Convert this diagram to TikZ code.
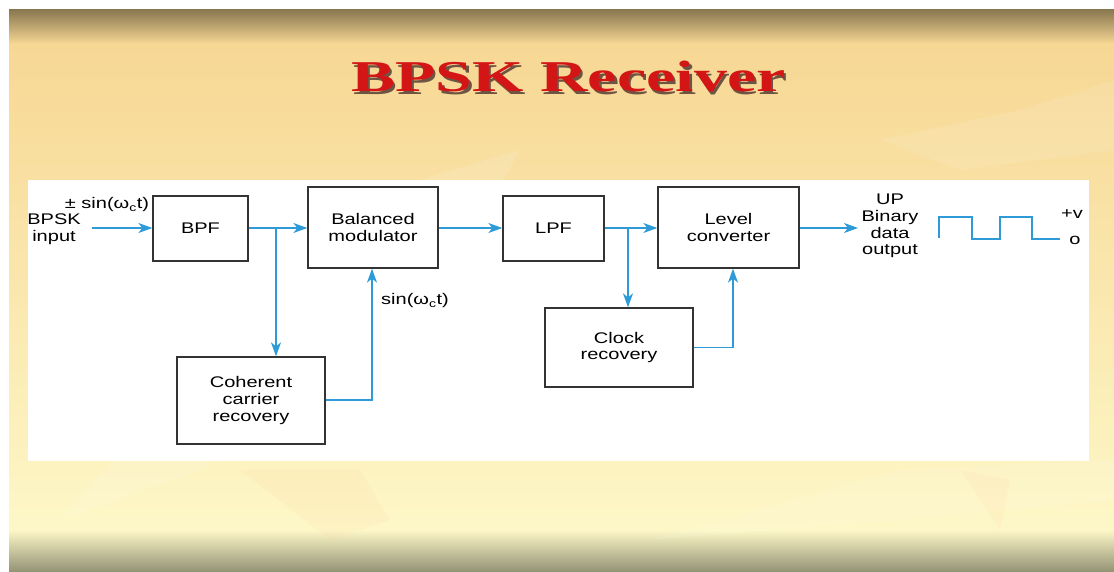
\documentclass[tikz,border=0pt]{standalone}
\usepackage{fontspec}
\setmainfont{Liberation Sans}[FakeStretch=1.30]
\newfontfamily\titlefont{Liberation Serif}[FakeStretch=1.5]
\usetikzlibrary{arrows.meta}

\definecolor{sigblue}{HTML}{2E9BD8}
\definecolor{titlered}{HTML}{D41515}
\definecolor{titleshade}{HTML}{4A2A14}
\definecolor{bandtop}{HTML}{8A7850}
\definecolor{bandbot}{HTML}{929274}
\definecolor{beige}{HTML}{F7D794}
\definecolor{paleyel}{HTML}{FDF7C7}

\newcommand{\blockfont}{\fontsize{15.4}{16.8}\selectfont}
\newcommand{\shadowed}[1]{\makebox[0pt][l]{\raisebox{-2.5pt}{\hspace{2.5pt}\textcolor{titleshade!80}{#1}}}#1}

\tikzset{
  block/.style={draw=black!80, line width=1.3pt, fill=white, inner sep=0pt, align=center, font=\blockfont},
  lbl/.style={align=center, font=\blockfont, inner sep=0pt},
  wire/.style={draw=sigblue, line width=1.3pt},
  sig/.style={wire, -{Stealth[length=14pt,width=10pt,inset=4pt]}}
}

\begin{document}
\begin{tikzpicture}[x=1pt, y=-1pt]
\useasboundingbox (0,0) rectangle (1114,572);

% Background
\fill[white] (0,0) rectangle (1114,572);
\shade[top color=bandtop, bottom color=beige] (9,10) rectangle (1114,44);
\shade[top color=beige, bottom color=paleyel] (9,44) rectangle (1114,530);
\shade[top color=paleyel, bottom color=bandbot] (9,530) rectangle (1114,572);
\fill[white, opacity=0.12] (60,520) -- (230,330) -- (330,250) -- (420,180) -- (520,150) -- (480,220) -- (380,330) -- (200,470) -- cycle;
\fill[white, opacity=0.10] (650,540) -- (900,470) -- (1114,460) -- (1114,500) -- (900,520) -- cycle;
\fill[white, opacity=0.10] (880,140) -- (1020,110) -- (1114,80) -- (1114,150) -- (960,170) -- cycle;
\fill[orange!40, opacity=0.10] (240,470) -- (330,540) -- (390,520) -- (360,470) -- cycle;
\fill[orange!40, opacity=0.10] (960,470) -- (1000,530) -- (1010,480) -- cycle;

% Title
\node[anchor=base, text=titlered, font=\titlefont\bfseries\fontsize{44}{48}\selectfont] (title) at (568.5,91.7) {\shadowed{BPSK Receiver}};

% Diagram panel
\fill[white] (28,180) rectangle (1089,461);

% Blocks
\node[block, minimum width=95pt, minimum height=65pt] (bpf) at (200.5,228.5) {BPF};
\node[block, minimum width=130pt, minimum height=81pt] (bmod) at (373,227.5) {Balanced\\modulator};
\node[block, minimum width=101pt, minimum height=65pt] (lpf) at (553.5,228.5) {LPF};
\node[block, minimum width=141pt, minimum height=81pt] (lconv) at (728.5,227.5) {Level\\converter};
\node[block, minimum width=148pt, minimum height=87pt] (ccr) at (251,400.5) {Coherent\\carrier\\recovery};
\node[block, minimum width=148pt, minimum height=79pt] (clk) at (619,347.5) {Clock\\recovery};

% Labels
\node[lbl] (pmsin) at (107,205) {± sin(ω\textsubscript{c}t)};
\node[lbl] (bpskin) at (54,229) {BPSK\\input};
\node[lbl] (sinlbl) at (415,301) {sin(ω\textsubscript{c}t)};
\node[lbl] (outlbl) at (890,226) {UP\\Binary\\data\\output};
\node[lbl] (plusv) at (1072,214) {+v};
\node[lbl] (zero) at (1075,240) {o};

% Arrows
\coordinate (in) at (92,228);
\coordinate (br1) at (276,228);
\coordinate (br2) at (628,228);
\coordinate (out) at (858,228);
\draw[sig] (in) -- (bpf.west |- in);
\draw[sig] (bpf.east |- in) -- (bmod.west |- in);
\draw[sig] (br1) -- (br1 |- ccr.north);
\draw[sig] (ccr.east |- 0,400) -| ([xshift=-1pt]bmod.south);
\draw[sig] (bmod.east |- in) -- (lpf.west |- in);
\draw[sig] (lpf.east |- in) -- (lconv.west |- in);
\draw[sig] (br2) -- (br2 |- clk.north);
\draw[sig] (clk.east) -| ([xshift=4.5pt]lconv.south);
\draw[sig] (lconv.east |- in) -- (out);

% Output waveform
\draw[wire] (939,238) -- (939,217) -- (972,217) -- (972,239) -- (1000,239) -- (1000,217) -- (1032,217) -- (1032,239) -- (1060,239);
\end{tikzpicture}
\end{document}
